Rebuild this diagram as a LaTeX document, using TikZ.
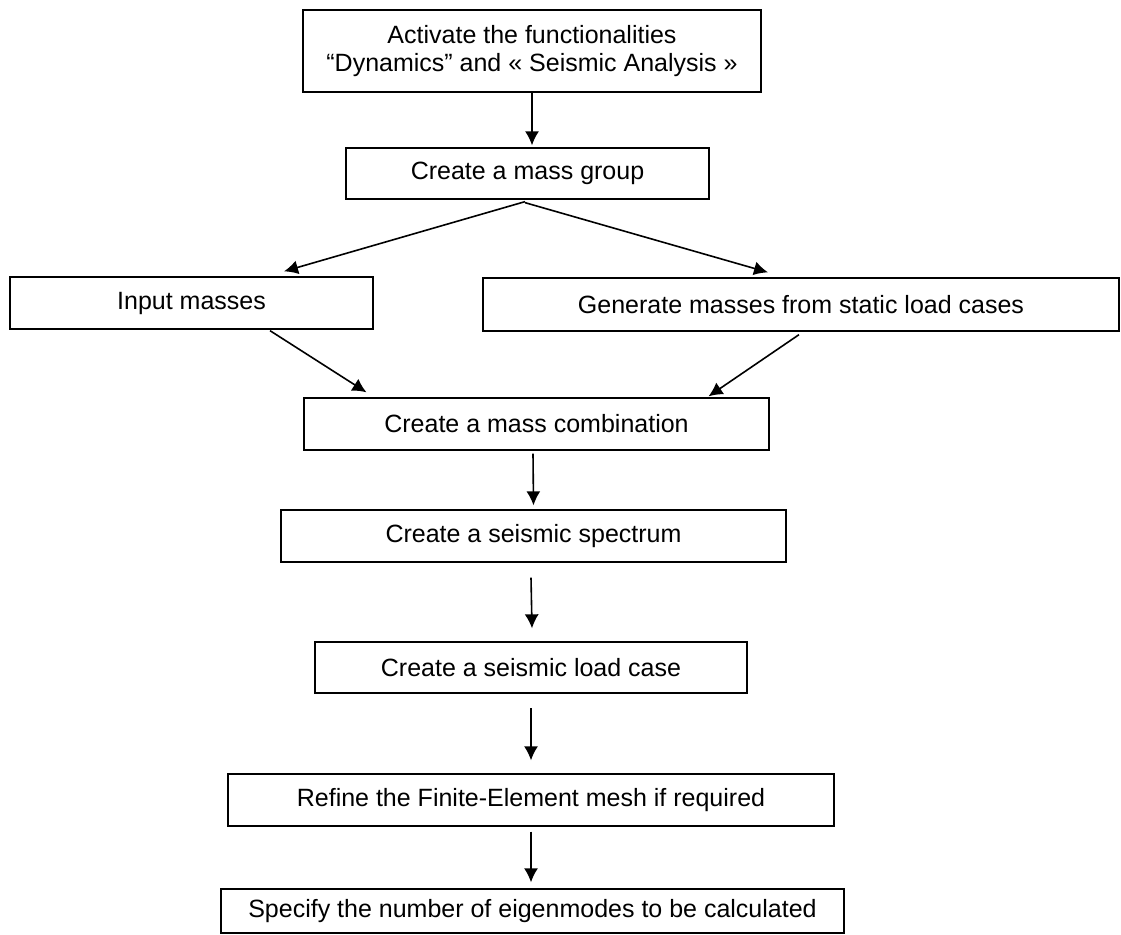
\documentclass[tikz,border=0pt]{standalone}
\usepackage{fontspec}
\setmainfont{Liberation Sans}
\usetikzlibrary{arrows.meta}

\begin{document}
\begin{tikzpicture}[x=1pt, y=-1pt,
        caja/.style={draw, line width=1.3pt, inner sep=0pt, align=center, font=\fontsize{25}{28}\selectfont},
        flecha/.style={-{Latex[length=14pt,width=14pt]}, line width=1.6pt}]
        \useasboundingbox[fill=white] (0,0) rectangle (1121,934);

        % Activación y grupo de masas
        \node[caja, minimum width=458pt, minimum height=82pt] (activar) at (532,51) {Activate the functionalities\\“Dynamics” and « Seismic Analysis »};
        \node[caja, minimum width=363pt, minimum height=51pt] (grupo) at (527.5,173.5) {Create a mass group};

        % Dos ramas
        \node[caja, minimum width=363pt, minimum height=52pt] (entrada) at (191.5,303) {Input masses};
        \node[caja, minimum width=636pt, minimum height=53pt] (generar) at (801,304.5) {Generate masses from static load cases};

        % Cadena principal
        \node[caja, minimum width=465pt, minimum height=52pt] (combinacion) at (536.5,424) {Create a mass combination};
        \node[caja, minimum width=505pt, minimum height=52pt] (espectro) at (533.5,536) {Create a seismic spectrum};
        \node[caja, minimum width=432pt, minimum height=51pt] (caso) at (531,667.5) {Create a seismic load case};
        \node[caja, minimum width=606pt, minimum height=52pt] (malla) at (531,800) {Refine the Finite-Element mesh if required};
        \node[caja, minimum width=623pt, minimum height=44pt] (modos) at (532.5,911) {Specify the number of eigenmodes to be calculated};

        % Flechas
        \draw[flecha] (activar.south) -- ([xshift=4.5pt, yshift=2pt]grupo.north);
        \draw[flecha] ([xshift=-2.5pt, yshift=-2pt]grupo.south) -- ([xshift=92.5pt, yshift=5pt]entrada.north);
        \draw[flecha] ([xshift=-2.5pt, yshift=-3pt]grupo.south) -- ([xshift=-33pt, yshift=5pt]generar.north);
        \draw[flecha] ([xshift=78.5pt, yshift=-1pt]entrada.south) -- ([xshift=-170pt, yshift=5pt]combinacion.north);
        \draw[flecha] ([xshift=-2pt, yshift=-3pt]generar.south) -- ([xshift=172pt, yshift=1pt]combinacion.north);
        \draw[flecha] ([xshift=-3.5pt, yshift=-3pt]combinacion.south) -- ([yshift=4pt]espectro.north);
        \draw[flecha] ([xshift=-2.5pt, yshift=-15pt]espectro.south) -- ([xshift=1pt, yshift=13pt]caso.north);
        \draw[flecha] ([yshift=-14.5pt]caso.south) -- ([yshift=13pt]malla.north);
        \draw[flecha] ([yshift=-5pt]malla.south) -- ([xshift=-1.5pt, yshift=6pt]modos.north);
    \end{tikzpicture}
\end{document}
